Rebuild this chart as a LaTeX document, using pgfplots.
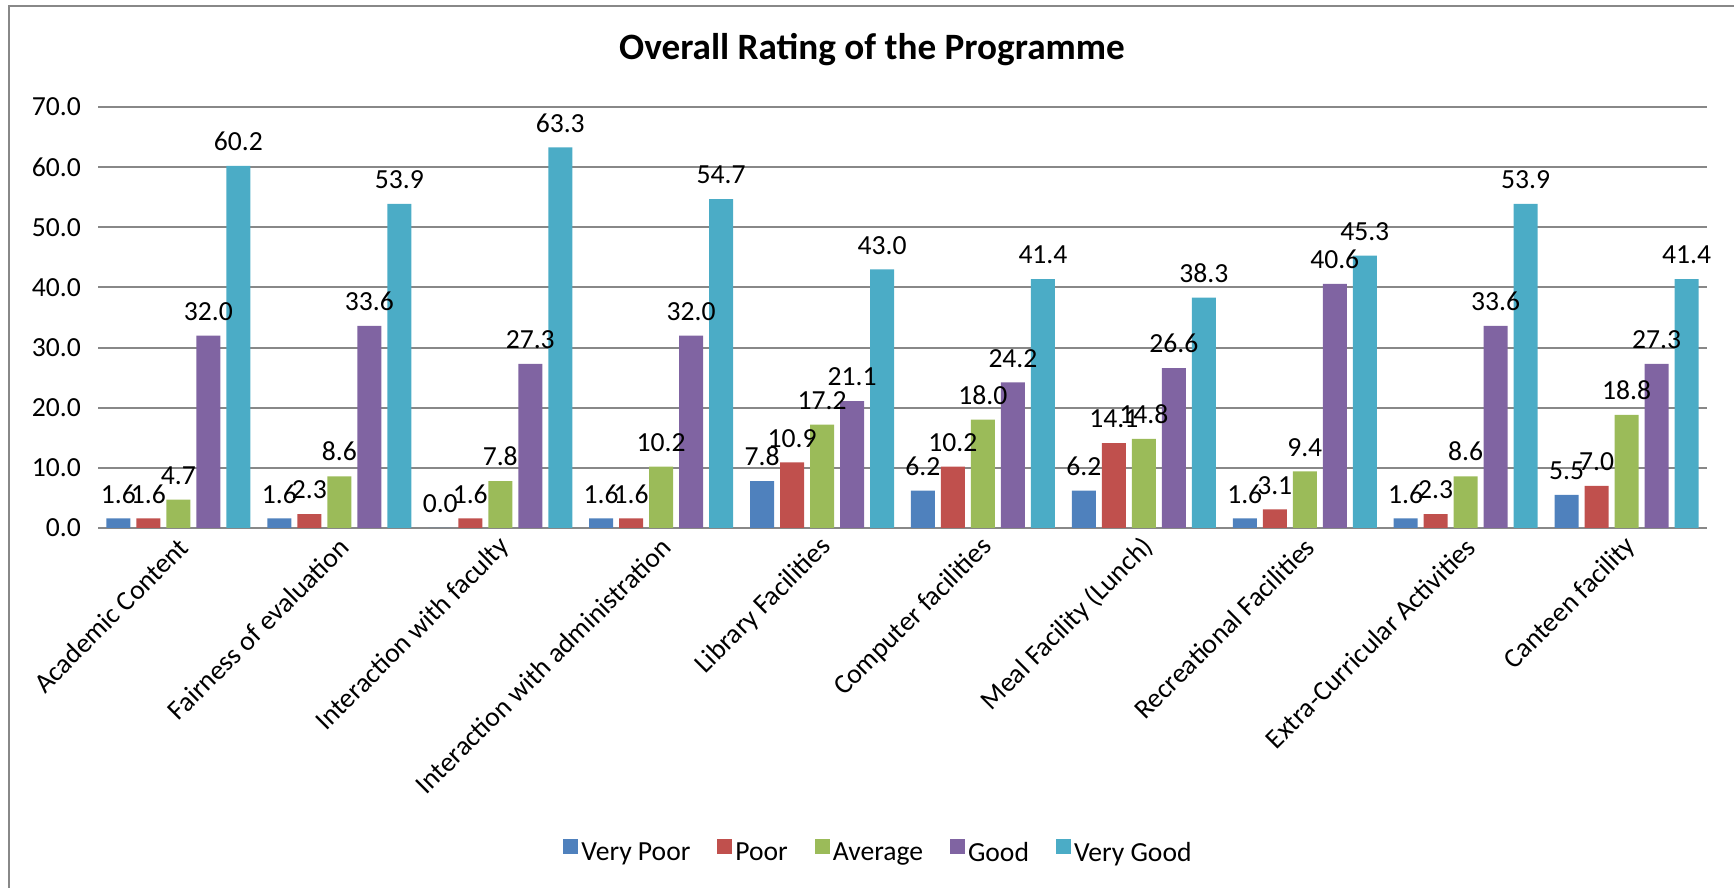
\documentclass[border=0pt]{standalone}
\usepackage{pgfplots}
\pgfplotsset{compat=1.18}
\usepackage{fontspec}
\setmainfont{Carlito}
\definecolor{cVP}{HTML}{4F81BD}
\definecolor{cP}{HTML}{C0504D}
\definecolor{cA}{HTML}{9BBB59}
\definecolor{cG}{HTML}{8064A2}
\definecolor{cVG}{HTML}{4BACC6}
\definecolor{gridc}{HTML}{888888}
\newcommand\lbl{\fontsize{13.8}{16}\selectfont}
\begin{document}
\begin{tikzpicture}
\path[use as bounding box] (0,0) rectangle (867pt,444pt);
\draw[gridc, line width=1pt] (4.5pt,-5pt) -- (4.5pt,440.75pt) -- (880pt,440.75pt);
\node[font=\fontsize{18.6}{22}\selectfont\bfseries] at (436pt,419pt) {Overall Rating of the Programme};
\begin{axis}[
  at={(49pt,180pt)}, anchor=south west,
  scale only axis, width=804.5pt, height=210.5pt,
  ymin=0, ymax=70, ytick distance=10,
  xmin=-0.5, xmax=9.5,
  xtick={0,...,9},
  xticklabels={Academic Content, Fairness of evaluation, Interaction with faculty, Interaction with administration, Library Facilities, Computer facilities, Meal Facility (Lunch), Recreational Facilities, Extra-Curricular Activities, Canteen facility},
  xticklabel style={rotate=45, anchor=east, font=\lbl, yshift=-7pt, xshift=0pt},
  yticklabel style={font=\lbl, xshift=-5pt},
  major tick length=0pt,
  axis line style={draw=none},
  ymajorgrids, grid style={gridc, line width=1pt},
  /pgf/number format/.cd, fixed, fixed zerofill, precision=1, assume math mode=true,
  /pgfplots/.cd,
  ybar=3pt, bar width=12pt,
  nodes near coords,
  every node near coord/.append style={font=\lbl, anchor=south, yshift=4pt, text=black},
  legend columns=5,
  legend style={draw=none, at={(0.4854,-0.772)}, anchor=center, font=\lbl,
    nodes={inner sep=1.5pt},
    /tikz/every even column/.append style={column sep=12pt}},
  legend image code/.code={\fill[#1] (0pt,-0.5pt) rectangle (7.5pt,7pt);},
]
\addplot[fill=cVP, draw=none] coordinates {(0,1.6) (1,1.6) (2,0.0) (3,1.6) (4,7.8) (5,6.2) (6,6.2) (7,1.6) (8,1.6) (9,5.5)};
\addplot[fill=cP, draw=none] coordinates {(0,1.6) (1,2.3) (2,1.6) (3,1.6) (4,10.9) (5,10.2) (6,14.1) (7,3.1) (8,2.3) (9,7.0)};
\addplot[fill=cA, draw=none] coordinates {(0,4.7) (1,8.6) (2,7.8) (3,10.2) (4,17.2) (5,18.0) (6,14.8) (7,9.4) (8,8.6) (9,18.8)};
\addplot[fill=cG, draw=none] coordinates {(0,32.0) (1,33.6) (2,27.3) (3,32.0) (4,21.1) (5,24.2) (6,26.6) (7,40.6) (8,33.6) (9,27.3)};
\addplot[fill=cVG, draw=none] coordinates {(0,60.2) (1,53.9) (2,63.3) (3,54.7) (4,43.0) (5,41.4) (6,38.3) (7,45.3) (8,53.9) (9,41.4)};
\legend{Very Poor, Poor, Average, Good, Very Good}
\end{axis}
\end{tikzpicture}
\end{document}
